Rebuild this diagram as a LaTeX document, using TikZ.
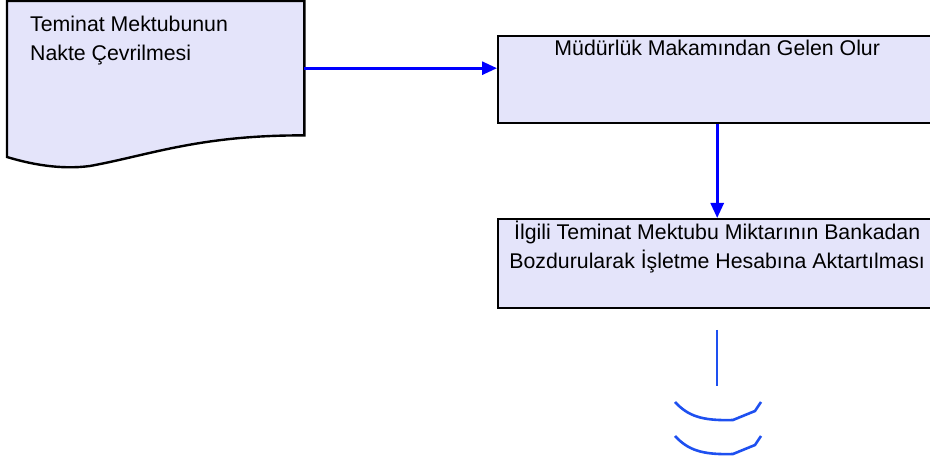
\documentclass[tikz,border=0pt]{standalone}
\usepackage{fontspec}
\setmainfont{Liberation Sans}
\usepackage{xcolor}
\usetikzlibrary{positioning,arrows.meta}
\definecolor{kutu}{RGB}{228,228,250}
\definecolor{ok}{RGB}{0,0,255}
\definecolor{devam}{RGB}{30,80,240}
\tikzset{
  adim/.style={draw=black,line width=2.4pt,fill=kutu,inner sep=0pt,
    minimum width=438pt,anchor=north west},
  yazi/.style={inner sep=0pt,align=center,font=\fontsize{21.3}{29}\selectfont},
  akis/.style={draw=ok,line width=2.8pt,-{Triangle[length=15pt,width=13pt]}},
}
\begin{document}
\begin{tikzpicture}[x=1pt,y=-1pt]
        \useasboundingbox (0,0) rectangle (930,462);
        %belge sekli
        \node[inner sep=0pt,minimum width=297pt,minimum height=134pt,anchor=north west] (cek) at (7,1) {};
        \draw[line width=2.4pt,fill=kutu] (cek.north west) -- (cek.north east) -- (cek.south east)
            .. controls (200,135) and (150,155) .. (90,166)
            .. controls (60,170) and (30,164) .. (7,157) -- cycle;
        \node[yazi,align=left,anchor=north west] (cektxt) at (30,16) {Teminat Mektubunun\\Nakte Çevrilmesi};
        %kutular
        \node[adim,minimum height=87pt] (olur) at (497,35) {};
        \node[yazi,below=5pt of olur.north] (olurtxt) {Müdürlük Makamından Gelen Olur};
        \node[adim,minimum height=89pt] (banka) at (497,218) {};
        \node[yazi,below=3pt of banka.north] (bankatxt) {İlgili Teminat Mektubu Miktarının Bankadan\\Bozdurularak İşletme Hesabına Aktartılması};
        %oklar
        \draw[akis] (cek.east) -- (cek.east -| olur.west);
        \draw[akis] (olur.south) -- (banka.north);
        %devam isareti
        \coordinate (d1) at (717,330);
        \coordinate (d2) at (717,386);
        \draw[devam,line width=2.6pt] (d1) -- (d2);
        \foreach \y in {0,34}
        {
                \draw[devam,line width=2.6pt,yshift=-\y pt] (675,402) .. controls (688,416) and (702,421) .. (733,420)
                    -- (755,411) -- (761,402);
        };
\end{tikzpicture}
\end{document}
